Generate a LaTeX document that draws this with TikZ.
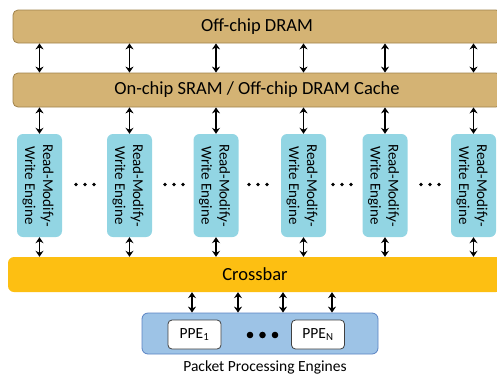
\documentclass[tikz,border=0pt]{standalone}
\usepackage{fontspec}
\setmainfont{Carlito}
\usetikzlibrary{arrows.meta}
\definecolor{dramfill}{RGB}{212,179,116}
\definecolor{dramline}{RGB}{160,130,75}
\definecolor{xbarfill}{RGB}{253,191,18}
\definecolor{rmwfill}{RGB}{146,213,227}
\definecolor{ppefill}{RGB}{157,195,230}
\definecolor{ppeline}{RGB}{90,130,195}
\tikzset{
  membox/.style={draw=dramline, line width=0.8pt, fill=dramfill, rounded corners=5pt,
    inner sep=0pt, font=\fontsize{18.5}{22}\selectfont},
  rmwbox/.style={fill=rmwfill, rounded corners=6pt, minimum width=45pt, minimum height=103pt,
    inner sep=0pt},
  rmwtext/.style={rotate=-90, align=center, inner sep=0pt, font=\fontsize{15}{18}\selectfont},
  xbar/.style={fill=xbarfill, rounded corners=6pt, inner sep=0pt, font=\fontsize{18.5}{22}\selectfont},
  ppecont/.style={draw=ppeline, line width=0.8pt, fill=ppefill, rounded corners=6pt, inner sep=0pt},
  ppebox/.style={draw=black!75, line width=0.8pt, fill=white, rounded corners=4pt, inner sep=0pt,
    minimum width=53pt, minimum height=29pt, font=\fontsize{15.5}{18}\selectfont},
  biarrow/.style={{Stealth[length=6pt,width=8pt,inset=2pt]}-{Stealth[length=6pt,width=8pt,inset=2pt]},
    line width=1.6pt, black},
}
\begin{document}
\begin{tikzpicture}[x=1pt,y=-1pt]
\useasboundingbox (0,0) rectangle (497,375);
\clip (0,0) rectangle (497,375);
% memory boxes
\node[membox, minimum width=488pt, minimum height=33pt] (dram) at (257,26.5) {Off-chip DRAM};
\node[membox, minimum width=488pt, minimum height=34pt] (sram) at (257,90) {On-chip SRAM / Off-chip DRAM Cache};
% RMW engines
\foreach \i/\x in {1/39.5,2/129.5,3/216,4/303.5,5/385,6/473.5}{
  \node[rmwbox] (rmw\i) at (\x,185.5) {};
  \node[rmwtext] (rmwt\i) at ([xshift=-1.5pt]rmw\i.center) {Read-Modify-\\Write Engine};
}
% dots between RMW engines
\foreach \x in {85,174,258,342,430}{
  \foreach \d in {-9,0,9}{
    \fill (\x+\d,184.5) circle (1.8);
  }
}
% crossbar
\node[xbar, minimum width=494pt, minimum height=35pt] (xbar) at (255,274.5) {Crossbar};
% PPE container
\node[ppecont, minimum width=236pt, minimum height=41pt] (ppes) at (260,333.5) {};
\node[ppebox] (ppe1) at (194.5,334.5) {PPE\textsubscript{1}};
\node[ppebox] (ppen) at (318,334.5) {PPE\textsubscript{N}};
\foreach \x in {250,262.5,275}{
  \fill (\x,335) circle (3.3);
}
\node[font=\fontsize{15.5}{18}\selectfont] (ppelabel) at (265,367) {Packet Processing Engines};
% arrows DRAM <-> SRAM, SRAM <-> RMW, RMW <-> crossbar
\foreach \i in {1,...,6}{
  \draw[biarrow] (dram.south -| rmw\i) -- (sram.north -| rmw\i);
  \draw[biarrow] (sram.south -| rmw\i) -- (rmw\i.north);
  \draw[biarrow] (rmw\i.south) -- (xbar.north -| rmw\i);
}
% arrows crossbar <-> PPEs
\foreach \x in {192,238,283,332}{
  \coordinate (pa) at (\x,0);
  \draw[biarrow] (xbar.south -| pa) -- (ppes.north -| pa);
}
\end{tikzpicture}
\end{document}
